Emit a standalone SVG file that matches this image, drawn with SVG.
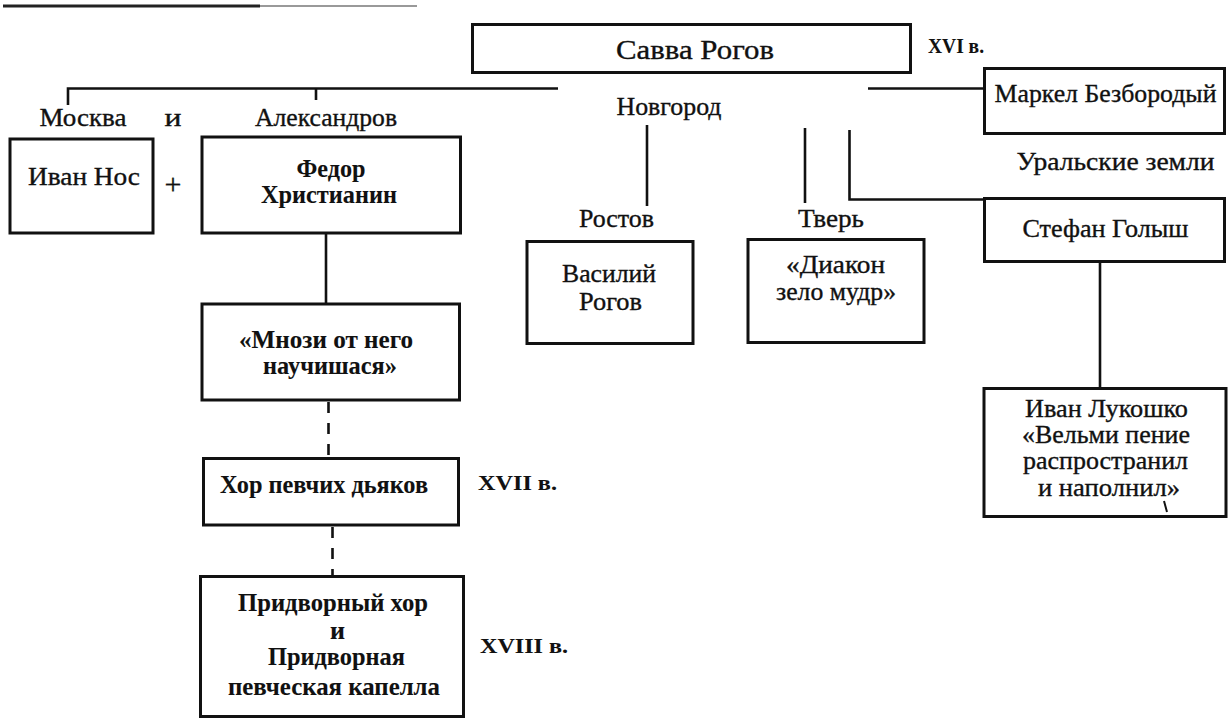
<svg xmlns="http://www.w3.org/2000/svg" width="1228" height="718" viewBox="0 0 1228 718">
<style>
  text { font-family: "Liberation Serif", "Times New Roman", serif; font-size: 25px; fill: #111; stroke: #111; stroke-width: 0.35; text-anchor: middle; }
  .b { font-weight: bold; stroke-width: 0.1; }
  .c { font-size: 22px; font-weight: bold; text-anchor: start; stroke-width: 0.1; }
  .box { fill: none; stroke: #111; stroke-width: 3; }
  .ln { fill: none; stroke: #111; stroke-width: 2.6; }
  .dash { fill: none; stroke: #111; stroke-width: 2.6; stroke-dasharray: 11 10; }
</style>
<rect width="1228" height="718" fill="#fff"/>
<g id="scan">
  <line x1="3" y1="6" x2="260" y2="6" stroke="#222" stroke-width="3"/>
  <line x1="260" y1="6" x2="417" y2="6" stroke="#999" stroke-width="2"/>
</g>
<g id="connectors">
  <polyline class="ln" points="68,105 68,88.5 558,88.5"/>
  <line class="ln" x1="316" y1="88.5" x2="316" y2="100"/>
  <line class="ln" x1="868" y1="88.5" x2="984" y2="88.5"/>
  <line class="ln" x1="647" y1="125" x2="647" y2="206"/>
  <line class="ln" x1="805" y1="128" x2="805" y2="203"/>
  <polyline class="ln" points="849.5,130 849.5,199.5 984,199.5"/>
  <line class="ln" x1="326" y1="233" x2="326" y2="304"/>
  <line class="dash" x1="328.5" y1="402" x2="328.5" y2="458"/>
  <line class="dash" x1="332.5" y1="527" x2="332.5" y2="576"/>
  <line class="ln" x1="1100" y1="262" x2="1100" y2="388"/>
  <line x1="1164" y1="501" x2="1167" y2="512" stroke="#111" stroke-width="2"/>
</g>
<g id="labels">
  <text x="83" y="126" textLength="87" lengthAdjust="spacingAndGlyphs">Москва</text>
  <text x="173" y="126" textLength="17" lengthAdjust="spacingAndGlyphs">и</text>
  <text x="326" y="126" textLength="142" lengthAdjust="spacingAndGlyphs">Александров</text>
  <text x="669" y="115" textLength="105" lengthAdjust="spacingAndGlyphs">Новгород</text>
  <text x="616.5" y="227" textLength="75" lengthAdjust="spacingAndGlyphs">Ростов</text>
  <text x="831" y="227" textLength="66" lengthAdjust="spacingAndGlyphs">Тверь</text>
  <text x="1115.5" y="170" textLength="198" lengthAdjust="spacingAndGlyphs">Уральские земли</text>
  <text class="c" x="928" y="53" textLength="56" lengthAdjust="spacingAndGlyphs">XVI в.</text>
  <text class="c" x="478" y="490" textLength="79" lengthAdjust="spacingAndGlyphs">XVII в.</text>
  <text class="c" x="480" y="653" textLength="88" lengthAdjust="spacingAndGlyphs">XVIII в.</text>
</g>
<g id="savva">
  <rect class="box" x="472.5" y="24.5" width="438" height="48"/>
  <text x="695" y="59" style="font-size:27px" textLength="158" lengthAdjust="spacingAndGlyphs">Савва Рогов</text>
</g>
<g id="markel">
  <rect class="box" x="984.5" y="68.5" width="240" height="65"/>
  <text x="1105.5" y="102" textLength="222" lengthAdjust="spacingAndGlyphs">Маркел Безбородый</text>
</g>
<g id="ivan-nos">
  <rect class="box" x="10" y="139" width="143" height="94"/>
  <text x="84" y="185" textLength="112" lengthAdjust="spacingAndGlyphs">Иван Нос</text>
</g>
<text x="173" y="194" style="font-size:30px">+</text>
<g id="fedor">
  <rect class="box" x="202" y="137" width="258.5" height="96"/>
  <text class="b" x="331" y="177" textLength="69" lengthAdjust="spacingAndGlyphs">Федор</text>
  <text class="b" x="329" y="203" textLength="136" lengthAdjust="spacingAndGlyphs">Христианин</text>
</g>
<g id="vasily">
  <rect class="box" x="527" y="241.5" width="166" height="102"/>
  <text x="609" y="282" textLength="94" lengthAdjust="spacingAndGlyphs">Василий</text>
  <text x="610.5" y="310" textLength="63" lengthAdjust="spacingAndGlyphs">Рогов</text>
</g>
<g id="diakon">
  <rect class="box" x="748" y="239.5" width="176" height="103"/>
  <text x="835.5" y="273" textLength="99" lengthAdjust="spacingAndGlyphs">«Диакон</text>
  <text x="836" y="300" textLength="120" lengthAdjust="spacingAndGlyphs">зело мудр»</text>
</g>
<g id="stefan">
  <rect class="box" x="984.5" y="198.5" width="240" height="63"/>
  <text x="1105.5" y="237" textLength="166" lengthAdjust="spacingAndGlyphs">Стефан Голыш</text>
</g>
<g id="lukoshko">
  <rect class="box" x="984" y="388.5" width="242" height="128"/>
  <text x="1106.5" y="417" textLength="163" lengthAdjust="spacingAndGlyphs">Иван Лукошко</text>
  <text x="1106" y="443" textLength="168" lengthAdjust="spacingAndGlyphs">«Вельми пение</text>
  <text x="1105.5" y="469" textLength="165" lengthAdjust="spacingAndGlyphs">распространил</text>
  <text x="1109" y="496" textLength="142" lengthAdjust="spacingAndGlyphs">и наполнил»</text>
</g>
<g id="mnozi">
  <rect class="box" x="202" y="304" width="257.5" height="96"/>
  <text class="b" x="326" y="348" textLength="174" lengthAdjust="spacingAndGlyphs">«Мнози от него</text>
  <text class="b" x="330" y="374" textLength="134" lengthAdjust="spacingAndGlyphs">научишася»</text>
</g>
<g id="hor">
  <rect class="box" x="203.5" y="458.5" width="255" height="66.5"/>
  <text class="b" x="324" y="493" textLength="208" lengthAdjust="spacingAndGlyphs">Хор певчих дьяков</text>
</g>
<g id="pridvorny">
  <rect class="box" x="200.5" y="576.5" width="263" height="140"/>
  <text class="b" x="333" y="611" textLength="190" lengthAdjust="spacingAndGlyphs">Придворный хор</text>
  <text class="b" x="337.5" y="639" textLength="15" lengthAdjust="spacingAndGlyphs">и</text>
  <text class="b" x="336.5" y="665" textLength="137" lengthAdjust="spacingAndGlyphs">Придворная</text>
  <text class="b" x="334" y="695" textLength="212" lengthAdjust="spacingAndGlyphs">певческая капелла</text>
</g>
</svg>
